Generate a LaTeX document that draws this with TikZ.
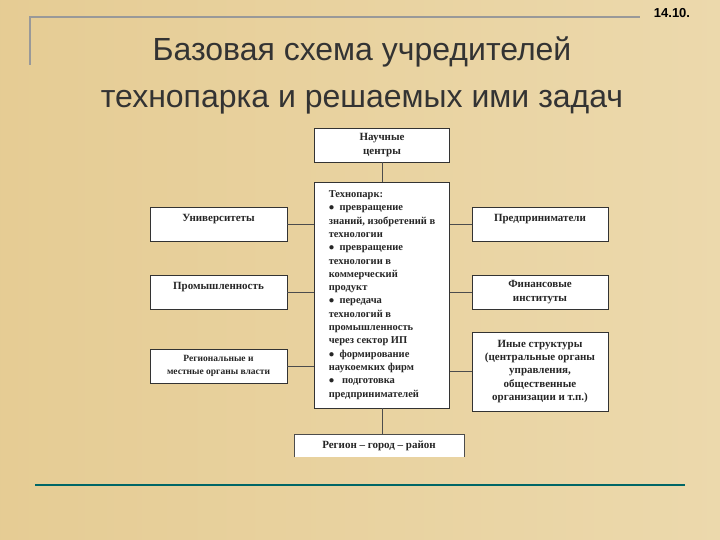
\documentclass[tikz,border=0pt]{standalone}
\usepackage{fontspec}
\setmainfont{Liberation Serif}
\newfontfamily\titlefont{Liberation Sans}
\begin{document}
\begin{tikzpicture}[x=1pt,y=-1pt,
  bx/.style={draw=black!80,fill=white,line width=0.8pt,inner sep=2pt,align=center,font=\bfseries\fontsize{11}{13.3}\selectfont,text=black!85},
  ln/.style={draw=black!70,line width=0.8pt}]
\shade[left color=white!80!yellow!60!brown,right color=yellow!25!brown!40!white] (0,0) rectangle (720,540);
\useasboundingbox (0,0) rectangle (720,540);
\draw[gray!80,line width=1.2pt] (30,65) -- (30,17) -- (640,17);
\draw[teal!80!black,line width=1.5pt] (35,485) -- (685,485);
\node[font=\titlefont\bfseries\fontsize{13}{15}\selectfont] (num) at (672,13) {14.10.};
\node[font=\titlefont\fontsize{32}{47}\selectfont,text=black!80,align=center] (title) at (362,75) {Базовая схема учредителей\\технопарка и решаемых ими задач};
\node[bx,minimum width=135,minimum height=34] (nc) at (382,145) {Научные\\центры};
\node[bx,minimum width=135,minimum height=226,align=left,inner xsep=6pt,font=\bfseries\fontsize{10.5}{13.3}\selectfont] (tp) at (382,295) {Технопарк:\\
$\bullet$ \ превращение\\знаний, изобретений в\\технологии\\
$\bullet$ \ превращение\\технологии в\\коммерческий\\продукт\\
$\bullet$ \ передача\\технологий в\\промышленность\\через сектор ИП\\
$\bullet$ \ формирование\\наукоемких фирм\\
$\bullet$ \ \ подготовка\\предпринимателей};
\node[bx,minimum width=137,minimum height=34] (un) at (218.5,224) {Университеты\\[-2pt]\mbox{}};
\node[bx,minimum width=137,minimum height=34] (pr) at (218.5,292) {Промышленность\\[-2pt]\mbox{}};
\node[bx,minimum width=137,minimum height=34,font=\bfseries\fontsize{9.5}{12.5}\selectfont] (rg) at (218.5,366) {Региональные и\\местные органы власти};
\node[bx,minimum width=136,minimum height=34] (pd) at (540,224) {Предприниматели\\[-2pt]\mbox{}};
\node[bx,minimum width=136,minimum height=34] (fi) at (540,292) {Финансовые\\институты};
\node[bx,minimum width=136,minimum height=79,inner sep=1pt] (in) at (540,371.5) {Иные структуры\\(центральные органы\\управления,\\общественные\\организации и т.п.)};
\path[fill=white] (294,434) rectangle (464,457);
\draw[ln] (294,457) -- (294,434) -- (464,434) -- (464,457);
\node[font=\bfseries\fontsize{11}{13}\selectfont,text=black!85] (rgn) at (379,446) {Регион – город – район};
\coordinate (rt) at (382,434);
\draw[ln] (nc) -- (tp);
\draw[ln] (tp.south) -- (rt);
\draw[ln] (un.east) -- (un.east -| tp.west);
\draw[ln] (pr.east) -- (pr.east -| tp.west);
\draw[ln] (rg.east) -- (rg.east -| tp.west);
\draw[ln] (pd.west) -- (pd.west -| tp.east);
\draw[ln] (fi.west) -- (fi.west -| tp.east);
\draw[ln] (in.west) -- (in.west -| tp.east);
\end{tikzpicture}
\end{document}
